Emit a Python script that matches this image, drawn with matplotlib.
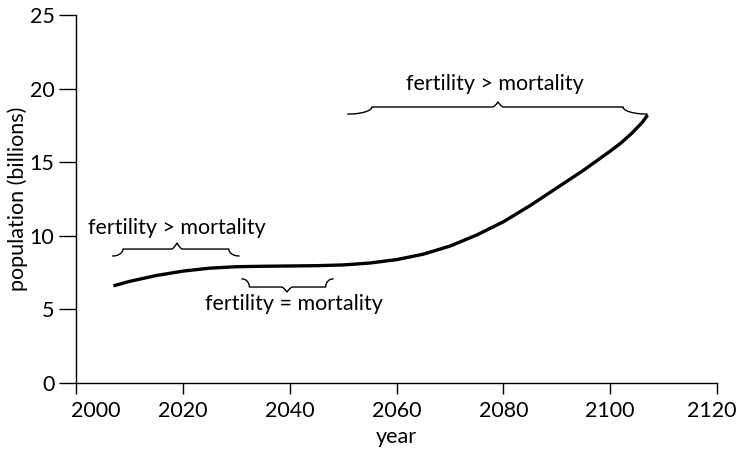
import matplotlib
matplotlib.use('Agg')
import matplotlib.pyplot as plt
import matplotlib.transforms as mtransforms
import numpy as np

plt.rcParams['font.family'] = ['Lato', 'DejaVu Sans']

# population curve
years = [2007, 2010, 2015, 2020, 2025, 2030, 2035, 2040, 2045, 2050, 2055,
         2060, 2065, 2070, 2075, 2080, 2085, 2090, 2095, 2100, 2102, 2104,
         2106, 2107]
population = [6.6, 6.9, 7.3, 7.6, 7.8, 7.9, 7.93, 7.95, 7.97, 8.02, 8.15,
              8.38, 8.75, 9.3, 10.05, 10.95, 12.05, 13.25, 14.45, 15.75, 16.3,
              16.95, 17.7, 18.2]

x_ticks = [2000, 2020, 2040, 2060, 2080, 2100, 2120]
y_ticks = [0, 5, 10, 15, 20, 25]

# brace annotations: (start, end, tip, end level, bar level, tip level, text, text x, text y)
braces = [
    (2006.9, 2030.5, 2018.9, 8.63, 9.10, 9.51, 'fertility > mortality', 2018.9, 10.5),
    (2031.1, 2048.1, 2039.5, 7.07, 6.52, 6.18, 'fertility = mortality', 2040.8, 5.4),
    (2050.9, 2106.9, 2079.0, 18.27, 18.75, 19.09, 'fertility > mortality', 2078.5, 20.3),
]

fig = plt.figure(figsize=(7.4, 4.49), dpi=100)
ax = fig.add_axes([76/740, (449-383)/449, (717-76)/740, (383-15)/449])

ax.plot(years, population, color='black', lw=2.4, solid_capstyle='butt')


def brace(x0, x1, xt, y_end, y_bar, y_tip):
    c = (x1 - x0) * 0.08
    tw = 1.0
    t = np.linspace(0, 1, 25)
    xs = list(x0 + c * np.sin(t * np.pi / 2))
    ys = list(y_end + (y_bar - y_end) * (1 - np.cos(t * np.pi / 2)))
    # small smooth tip
    u = np.linspace(-1, 1, 21)
    xs += list(xt + tw * u)
    ys += list(y_bar + (y_tip - y_bar) * (1 - np.abs(u)) ** 1.5)
    xs += list(x1 - c * np.sin(t[::-1] * np.pi / 2))
    ys += list(y_end + (y_bar - y_end) * (1 - np.cos(t[::-1] * np.pi / 2)))
    ax.plot(xs, ys, color='black', lw=1.0)


for b in braces:
    brace(*b[:6])
    ax.text(b[7], b[8], b[6], ha='center', va='center', fontsize=15.5)

ax.set_xlim(2000, 2120)
ax.set_ylim(0, 25)
ax.set_xticks(x_ticks)
ax.set_yticks(y_ticks)
ax.set_xlabel('year', fontsize=15.5, labelpad=4)
ax.set_ylabel('population (billions)', fontsize=15.5, labelpad=1)

for s in ['top', 'right']:
    ax.spines[s].set_visible(False)
for s in ['left', 'bottom']:
    ax.spines[s].set_linewidth(1.0)
ax.tick_params(axis='y', length=12.5, width=1.0, pad=3, labelsize=15.5)
ax.tick_params(axis='x', length=8, width=1.0, pad=5, labelsize=15.5)

# first year label sits right of its tick, last one kept inside the figure
labels = ax.get_xticklabels()
labels[0].set_transform(labels[0].get_transform() +
                        mtransforms.ScaledTranslation(0.2, 0, fig.dpi_scale_trans))
labels[-1].set_transform(labels[-1].get_transform() +
                         mtransforms.ScaledTranslation(-0.05, 0, fig.dpi_scale_trans))

fig.savefig('out.png', dpi=100)
